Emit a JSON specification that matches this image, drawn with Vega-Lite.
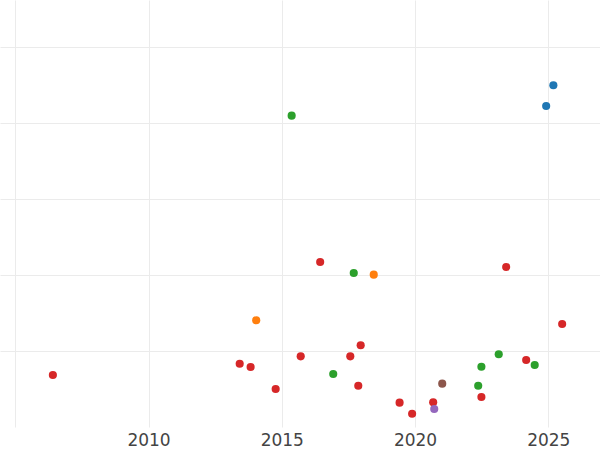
{
  "$schema": "https://vega.github.io/schema/vega-lite/v6.json",
  "width": 600,
  "height": 427,
  "autosize": {"type": "none"},
  "padding": {"left": 0, "top": 0, "right": 0, "bottom": 23},
  "background": "white",
  "config": {
    "view": {"stroke": null},
    "axis": {
      "ticks": false,
      "domain": false,
      "grid": true,
      "gridColor": "#ebebeb",
      "gridWidth": 1,
      "labelFont": "DejaVu Sans",
      "labelFontSize": 17,
      "labelColor": "#444444",
      "title": null
    }
  },
  "data": {
    "values": [
      {"year": 2006.41, "value": 0.684, "group": "D"},
      {"year": 2014.04, "value": 1.404, "group": "B"},
      {"year": 2013.42, "value": 0.833, "group": "D"},
      {"year": 2013.83, "value": 0.789, "group": "D"},
      {"year": 2014.77, "value": 0.5, "group": "D"},
      {"year": 2015.37, "value": 4.096, "group": "C"},
      {"year": 2015.71, "value": 0.93, "group": "D"},
      {"year": 2016.44, "value": 2.171, "group": "D"},
      {"year": 2016.93, "value": 0.697, "group": "C"},
      {"year": 2017.7, "value": 2.026, "group": "C"},
      {"year": 2018.45, "value": 2.004, "group": "B"},
      {"year": 2017.57, "value": 0.93, "group": "D"},
      {"year": 2017.96, "value": 1.075, "group": "D"},
      {"year": 2017.87, "value": 0.543, "group": "D"},
      {"year": 2019.42, "value": 0.32, "group": "D"},
      {"year": 2019.89, "value": 0.175, "group": "D"},
      {"year": 2020.68, "value": 0.325, "group": "D"},
      {"year": 2020.72, "value": 0.237, "group": "E"},
      {"year": 2021.02, "value": 0.57, "group": "F"},
      {"year": 2022.37, "value": 0.543, "group": "C"},
      {"year": 2022.49, "value": 0.793, "group": "C"},
      {"year": 2022.49, "value": 0.395, "group": "D"},
      {"year": 2023.14, "value": 0.957, "group": "C"},
      {"year": 2023.42, "value": 2.105, "group": "D"},
      {"year": 2024.17, "value": 0.882, "group": "D"},
      {"year": 2024.49, "value": 0.816, "group": "C"},
      {"year": 2024.92, "value": 4.224, "group": "A"},
      {"year": 2025.19, "value": 4.496, "group": "A"},
      {"year": 2025.52, "value": 1.355, "group": "D"}
    ]
  },
  "mark": {"type": "circle", "size": 66, "opacity": 1},
  "encoding": {
    "x": {
      "field": "year",
      "type": "quantitative",
      "scale": {"domain": [2004.426, 2026.94], "nice": false, "zero": false},
      "axis": {
        "values": [2005, 2010, 2015, 2020, 2025],
        "format": "d",
        "labelExpr": "datum.value == 2005 ? '' : datum.label",
        "labelPadding": 5
      }
    },
    "y": {
      "field": "value",
      "type": "quantitative",
      "scale": {"domain": [0, 5.618], "nice": false, "zero": false},
      "axis": {"values": [1, 2, 3, 4, 5], "labels": false}
    },
    "color": {
      "field": "group",
      "type": "nominal",
      "scale": {
        "domain": ["A", "B", "C", "D", "E", "F"],
        "range": ["#1f77b4", "#ff7f0e", "#2ca02c", "#d62728", "#9467bd", "#8c564b"]
      },
      "legend": null
    }
  }
}
